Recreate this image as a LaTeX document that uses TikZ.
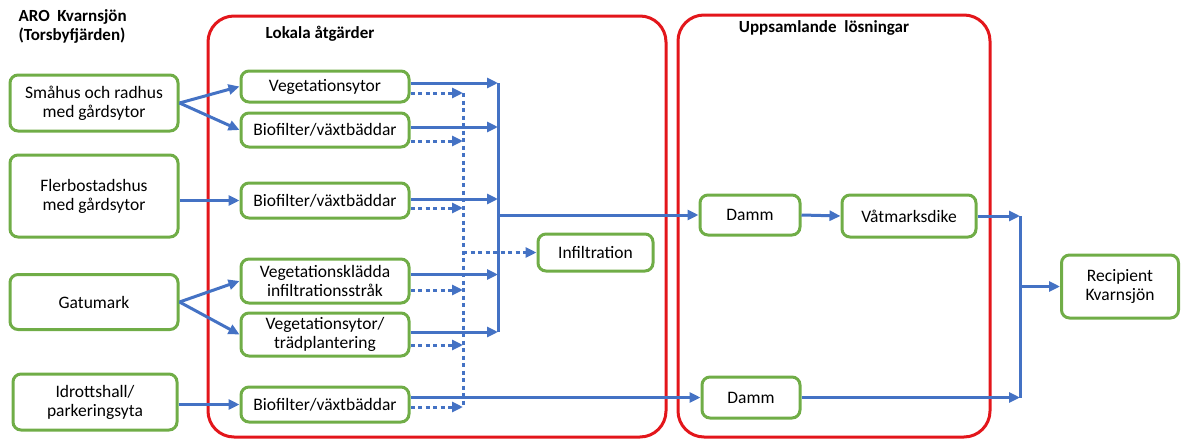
\documentclass[tikz,border=0pt]{standalone}
\usepackage{fontspec}
\setmainfont{Carlito}
\usetikzlibrary{arrows.meta,positioning}

\definecolor{boxgreen}{HTML}{70AD47}
\definecolor{flowblue}{HTML}{4472C4}
\definecolor{areared}{HTML}{E3161B}

\begin{document}
\begin{tikzpicture}[x=1pt, y=-1pt, font=\fontsize{17.5}{19}\selectfont,
    main/.style = {draw=boxgreen, line width=3pt, rounded corners=8pt, align=center, inner sep=1pt},
    area/.style = {draw=areared, line width=3pt, rounded corners=26pt},
    pipe/.style = {draw=flowblue, line width=3pt},
    flow/.style = {pipe, -{Triangle[length=11pt,width=10pt]}},
    seep/.style = {flow, dash pattern=on 4pt off 3.5pt},
    seepline/.style = {pipe, dash pattern=on 4pt off 3.5pt},
    head/.style = {font=\fontsize{17}{19}\selectfont\bfseries, align=left}]
    \useasboundingbox (0,0) rectangle (1181,439);

    % red frames
    \node[area, minimum width=458pt, minimum height=421pt] (local) at (437,226.5) {};
    \node[area, minimum width=312pt, minimum height=422pt] (collect) at (834,226) {};
    \node[head, anchor=north west] (aro) at (15,6) {ARO\ \ Kvarnsjön\\(Torsbyfjärden)};
    \node[head] (localtitle) at (320,34) {Lokala åtgärder};
    \node[head] (collecttitle) at (824,28) {Uppsamlande\ \ lösningar};

    % sources
    \node[main, minimum width=168pt, minimum height=56pt] (smahus) at (94,103) {Småhus och radhus\\med gårdsytor};
    \node[main, minimum width=168pt, minimum height=82pt] (flerbo) at (94,196) {Flerbostadshus\\med gårdsytor};
    \node[main, minimum width=168pt, minimum height=55pt] (gata)   at (94,302) {Gatumark};
    \node[main, minimum width=164pt, minimum height=56pt] (idrott) at (95,402) {Idrottshall/\\parkeringsyta};

    % local measures
    \node[main, minimum width=168pt, minimum height=31pt] (veg1)  at (325,86.5)  {Vegetationsytor};
    \node[main, minimum width=168pt, minimum height=34pt] (bio1)  at (325,130)   {Biofilter/växtbäddar};
    \node[main, minimum width=168pt, minimum height=35pt] (bio2)  at (325,200.5) {Biofilter/växtbäddar};
    \node[main, minimum width=168pt, minimum height=44pt] (vegkl) at (325,281)   {Vegetationsklädda\\infiltrationsstråk};
    \node[main, minimum width=168pt, minimum height=43pt] (vegtr) at (325,334.5) {Vegetationsytor/\\trädplantering};
    \node[main, minimum width=168pt, minimum height=35pt] (bio3)  at (325,404.5) {Biofilter/växtbäddar};
    \node[main, minimum width=115pt, minimum height=37pt] (infil) at (595.5,252.5) {Infiltration};

    % collecting measures
    \node[main, minimum width=100pt, minimum height=40pt] (damm1) at (750,215)   {Damm};
    \node[main, minimum width=134pt, minimum height=42pt] (vatm)  at (909,216)   {Våtmarksdike};
    \node[main, minimum width=98pt,  minimum height=41pt] (damm2) at (751,397.5) {Damm};
    \node[main, minimum width=117pt, minimum height=63pt] (recip) at (1120,286.5) {Recipient\\Kvarnsjön};

    \coordinate (bus)   at (498,215);
    \coordinate (drain) at (463,252.5);
    \coordinate (merge) at (1020,286.5);

    % sources to local measures
    \draw[flow] (smahus.east) -- (veg1.west);
    \draw[flow] (smahus.east) -- (bio1.west);
    \draw[flow] (flerbo.east |- bio2.west) -- (bio2.west);
    \draw[flow] (gata.east) -- (vegkl.west);
    \draw[flow] (gata.east) -- (vegtr.west);
    \draw[flow] (idrott.east |- bio3.west) -- (bio3.west);

    % surface runoff to collector
    \draw[flow] ([yshift=3.5pt]veg1.east) -- ([yshift=3.5pt]veg1.east -| bus);
    \draw[flow] ([yshift=3pt]bio1.east) -- ([yshift=3pt]bio1.east -| bus);
    \draw[flow] ([yshift=1.5pt]bio2.east) -- ([yshift=1.5pt]bio2.east -| bus);
    \draw[flow] ([yshift=6.5pt]vegkl.east) -- ([yshift=6.5pt]vegkl.east -| bus);
    \draw[flow] ([yshift=2.5pt]vegtr.east) -- ([yshift=2.5pt]vegtr.east -| bus);
    \draw[pipe] ([yshift=3.5pt]veg1.east -| bus) -- ([yshift=2.5pt]vegtr.east -| bus);
    \draw[flow] (bus) -- (damm1.west);

    % infiltration
    \draw[seep] ([yshift=-6.5pt]veg1.east) -- ([yshift=-6.5pt]veg1.east -| drain);
    \draw[seep] ([yshift=-11pt]bio1.east) -- ([yshift=-11pt]bio1.east -| drain);
    \draw[seep] ([yshift=-7.5pt]bio2.east) -- ([yshift=-7.5pt]bio2.east -| drain);
    \draw[seep] ([yshift=-9pt]vegkl.east) -- ([yshift=-9pt]vegkl.east -| drain);
    \draw[seep] ([yshift=-10.5pt]vegtr.east) -- ([yshift=-10.5pt]vegtr.east -| drain);
    \draw[seep] ([yshift=-2.5pt]bio3.east) -- ([yshift=-2.5pt]bio3.east -| drain);
    \draw[seepline] ([yshift=-6.5pt]veg1.east -| drain) -- ([yshift=-2.5pt]bio3.east -| drain);
    \draw[seep] (drain) -- (infil.west);

    % collecting chain to recipient
    \draw[flow] (bio3.east |- damm2.west) -- (damm2.west);
    \draw[flow] (damm1.east) -- (vatm.west);
    \draw[flow] (vatm.east) -- (vatm.east -| merge);
    \draw[flow] (damm2.east) -- (damm2.east -| merge);
    \draw[pipe] (vatm.east -| merge) -- (damm2.east -| merge);
    \draw[flow] (merge) -- (recip.west);
\end{tikzpicture}
\end{document}
